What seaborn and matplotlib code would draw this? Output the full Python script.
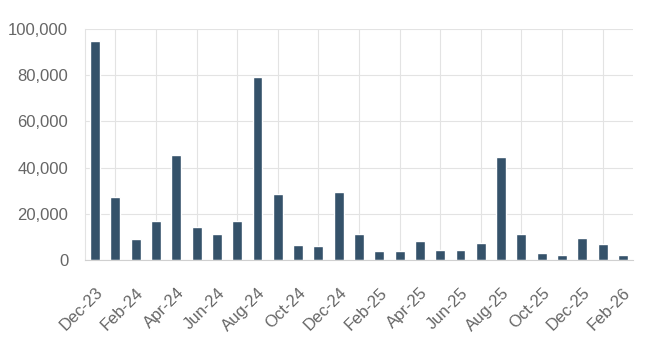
import matplotlib
matplotlib.use("Agg")
import matplotlib.pyplot as plt
import seaborn as sns
import pandas as pd
from matplotlib.ticker import FuncFormatter, FixedLocator

months = ["Dec-23", "Jan-24", "Feb-24", "Mar-24", "Apr-24", "May-24", "Jun-24",
          "Jul-24", "Aug-24", "Sep-24", "Oct-24", "Nov-24", "Dec-24", "Jan-25",
          "Feb-25", "Mar-25", "Apr-25", "May-25", "Jun-25", "Jul-25", "Aug-25",
          "Sep-25", "Oct-25", "Nov-25", "Dec-25", "Jan-26", "Feb-26"]
values = [95000, 27400, 9100, 16800, 45500, 14100, 11200,
          17000, 79400, 28700, 6400, 5900, 29600, 11100,
          4000, 3700, 8400, 4500, 4200, 7500, 44700,
          11200, 2900, 2300, 9500, 6900, 2000]
y_ticks = [0, 20000, 40000, 60000, 80000, 100000]

sns.set_theme(style="white")
plt.rcParams['font.family'] = ['Liberation Sans', 'DejaVu Sans']

df = pd.DataFrame({"month": months, "value": values})

fig = plt.figure(figsize=(6.6, 3.4), dpi=100)
ax = fig.add_axes([85/660, 1-260/340, (633-85)/660, (260-29)/340])

sns.barplot(data=df, x="month", y="value", order=months, color="#35526a",
            saturation=1, width=0.49, ax=ax)

grid_c = "#e3e3e3"
text_c = "#666666"

ax.set_xlim(-0.5, len(months) - 0.5)
ax.set_ylim(0, 100000)
ax.set_xlabel("")
ax.set_ylabel("")

# labels on every second month
major = list(range(0, len(months), 2))
minor = list(range(1, len(months), 2))
ax.xaxis.set_major_locator(FixedLocator(major))
ax.set_xticklabels([months[i] for i in major], rotation=45, ha="right",
                   rotation_mode="anchor", color=text_c, fontsize=12)
ax.xaxis.set_minor_locator(FixedLocator(minor))
ax.tick_params(axis="x", which="major", length=0, pad=18)
ax.tick_params(axis="x", which="minor", length=7.2, width=0.8, color=grid_c)
ax.grid(True, axis="x", which="minor", color=grid_c, linewidth=0.8)
ax.grid(False, axis="x", which="major")

ax.set_yticks(y_ticks)
ax.yaxis.set_major_formatter(FuncFormatter(lambda v, p: f"{int(v):,}"))
ax.tick_params(axis="y", which="major", length=8.6, width=0.8, color=grid_c,
               labelcolor=text_c, labelsize=12, pad=3.5)
ax.grid(True, axis="y", which="major", color=grid_c, linewidth=0.8)
ax.set_axisbelow(True)

for s in ["top", "right"]:
    ax.spines[s].set_visible(False)
ax.spines["left"].set_color(grid_c)
ax.spines["left"].set_linewidth(0.8)
ax.spines["bottom"].set_color("#d0d0d0")
ax.spines["bottom"].set_linewidth(0.8)

fig.savefig("out.png", dpi=100)
